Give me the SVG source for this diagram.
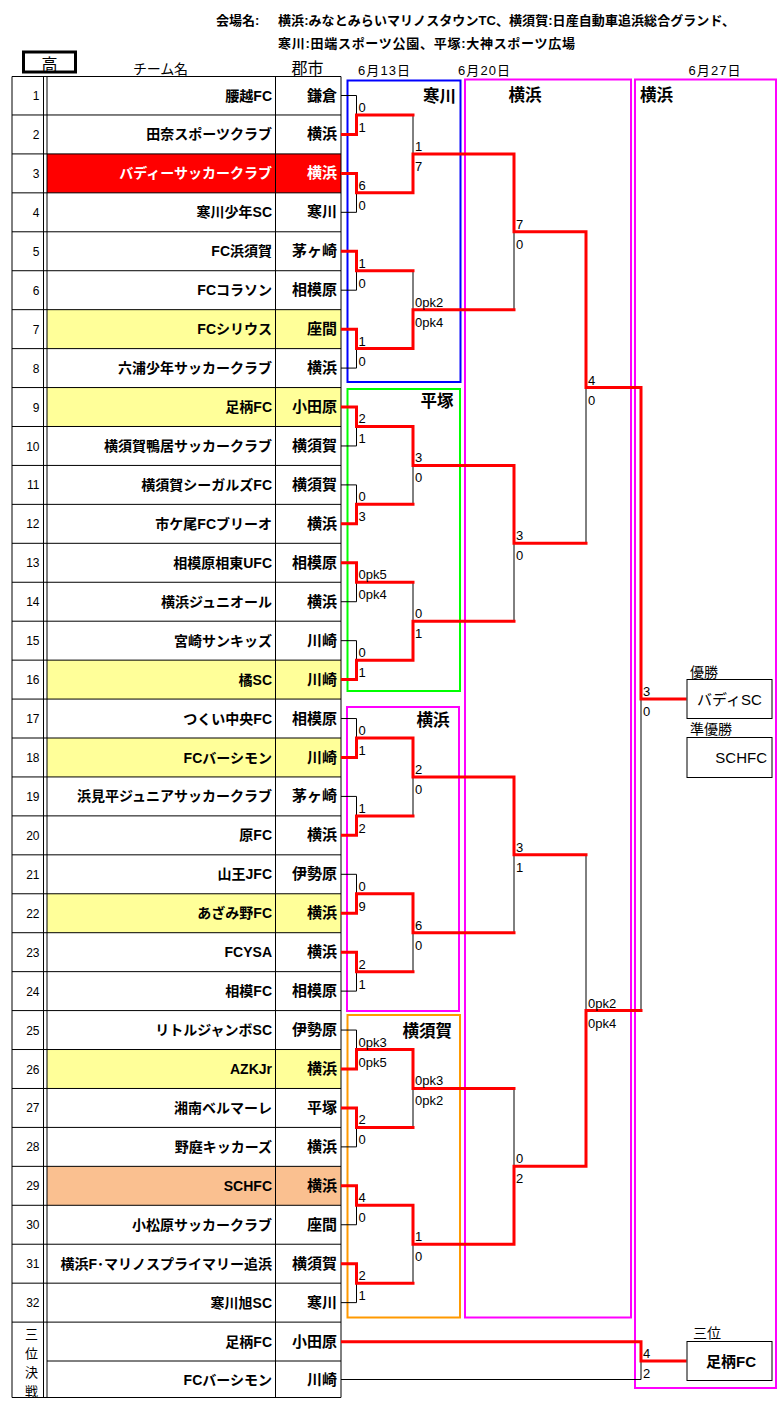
<svg xmlns="http://www.w3.org/2000/svg" width="780" height="1407" viewBox="0 0 780 1407">
<style>
text{font-family:"Liberation Sans","Noto Sans CJK JP",sans-serif;fill:#000}
.hd{font-size:13px;font-weight:bold}
.ch{font-size:14px}
.num{font-size:12px;text-anchor:end}
.nm{font-size:14px;font-weight:bold;text-anchor:end}
.ct{font-size:15px;font-weight:bold;text-anchor:end}
.wt{fill:#fff}
.sc{font-size:13px}
.lbl{font-size:16.5px;font-weight:bold}
.res{font-size:15px}
.cap{font-size:14px}
.red{fill:none;stroke:#f00;stroke-width:3;stroke-linecap:square;stroke-linejoin:miter}
.blk{fill:none;stroke:#000;stroke-width:1}
.grid{fill:none;stroke:#000;stroke-width:1}
.stage{fill:none;stroke-width:2}
.box{fill:#fff;stroke:#000;stroke-width:1}
.yel{fill:#FFFF99}
</style>
<rect width="780" height="1407" fill="#fff"/>
<g id="header">
<text class="hd" x="216" y="25">会場名:</text>
<text class="hd" x="278" y="25" textLength="457">横浜:みなとみらいマリノスタウンTC、横須賀:日産自動車追浜総合グランド、</text>
<text class="hd" x="278" y="48" textLength="297">寒川:田端スポーツ公園、平塚:大神スポーツ広場</text>
<rect x="23.5" y="52" width="52" height="20" fill="none" stroke="#000" stroke-width="3"/>
<text x="49.5" y="70" style="font-size:16px;text-anchor:middle">高</text>
<text class="ch" x="133" y="74" textLength="55">チーム名</text>
<text x="291.5" y="74" style="font-size:16px" textLength="32">郡市</text>
<text x="358" y="74.5" style="font-size:13px" textLength="52">6月13日</text>
<text x="458" y="74.5" style="font-size:13px" textLength="52">6月20日</text>
<text x="688.5" y="74.5" style="font-size:13px" textLength="52">6月27日</text>
</g>
<g id="stages">
<g id="stage-samukawa"><rect class="stage" x="347.5" y="80.5" width="113" height="301.5" stroke="#0000FF"/><text class="lbl" x="456" y="101.5" text-anchor="end">寒川</text></g>
<g id="stage-hiratsuka"><rect class="stage" x="347.5" y="389" width="112.5" height="302" stroke="#00FF00"/><text class="lbl" x="453.5" y="406.5" text-anchor="end">平塚</text></g>
<g id="stage-yokohama1"><rect class="stage" x="347" y="707" width="112" height="304" stroke="#FF00FF"/><text class="lbl" x="449.5" y="725.5" text-anchor="end">横浜</text></g>
<g id="stage-yokosuka"><rect class="stage" x="347.5" y="1015" width="112.5" height="302.5" stroke="#FF9900"/><text class="lbl" x="452" y="1037" text-anchor="end">横須賀</text></g>
<g id="stage-yokohama2"><rect class="stage" x="465" y="79.5" width="166" height="1238" stroke="#FF00FF"/><text class="lbl" x="508.5" y="100.5">横浜</text></g>
<g id="stage-yokohama3"><rect class="stage" x="635" y="79.5" width="141" height="1308.5" stroke="#FF00FF"/><text class="lbl" x="640" y="100.5">横浜</text></g>
</g>
<g id="table">
<rect x="47" y="153.91" width="294" height="38.94" fill="#FF0000"/>
<rect class="yel" x="47" y="309.67" width="294" height="38.94"/>
<rect class="yel" x="47" y="387.55" width="294" height="38.94"/>
<rect class="yel" x="47" y="660.13" width="294" height="38.94"/>
<rect class="yel" x="47" y="738.01" width="294" height="38.94"/>
<rect class="yel" x="47" y="893.77" width="294" height="38.94"/>
<rect class="yel" x="47" y="1049.53" width="294" height="38.94"/>
<rect x="47" y="1166.35" width="294" height="38.94" fill="#FAC090"/>
<path class="grid" d="M12 76.5H341V1397.5H12Z M43.5 76.5V1397.5 M47 76.5V1397.5 M275.5 76.5V1397.5
M12 114.97H341 M12 153.91H341 M12 192.85H341 M12 231.79H341 M12 270.73H341 M12 309.67H341 M12 348.61H341 M12 387.55H341
M12 426.49H341 M12 465.43H341 M12 504.37H341 M12 543.31H341 M12 582.25H341 M12 621.19H341 M12 660.13H341 M12 699.07H341
M12 738.01H341 M12 776.95H341 M12 815.89H341 M12 854.83H341 M12 893.77H341 M12 932.71H341 M12 971.65H341 M12 1010.59H341
M12 1049.53H341 M12 1088.47H341 M12 1127.41H341 M12 1166.35H341 M12 1205.29H341 M12 1244.23H341 M12 1283.17H341 M12 1322.11H341
M47 1361H341"/>
<g id="team-1"><text class="num" x="39.5" y="100">1</text><text class="nm" x="272" y="100.5">腰越FC</text><text class="ct" x="337" y="100.5">鎌倉</text></g>
<g id="team-2"><text class="num" x="39.5" y="138.9">2</text><text class="nm" x="272" y="139.4">田奈スポーツクラブ</text><text class="ct" x="337" y="139.4">横浜</text></g>
<g id="team-3"><text class="num" x="39.5" y="177.9">3</text><text class="nm wt" x="272" y="178.4">バディーサッカークラブ</text><text class="ct wt" x="337" y="178.4">横浜</text></g>
<g id="team-4"><text class="num" x="39.5" y="216.8">4</text><text class="nm" x="272" y="217.3">寒川少年SC</text><text class="ct" x="337" y="217.3">寒川</text></g>
<g id="team-5"><text class="num" x="39.5" y="255.8">5</text><text class="nm" x="272" y="256.3">FC浜須賀</text><text class="ct" x="337" y="256.3">茅ヶ崎</text></g>
<g id="team-6"><text class="num" x="39.5" y="294.7">6</text><text class="nm" x="272" y="295.2">FCコラソン</text><text class="ct" x="337" y="295.2">相模原</text></g>
<g id="team-7"><text class="num" x="39.5" y="333.6">7</text><text class="nm" x="272" y="334.1">FCシリウス</text><text class="ct" x="337" y="334.1">座間</text></g>
<g id="team-8"><text class="num" x="39.5" y="372.6">8</text><text class="nm" x="272" y="373.1">六浦少年サッカークラブ</text><text class="ct" x="337" y="373.1">横浜</text></g>
<g id="team-9"><text class="num" x="39.5" y="411.5">9</text><text class="nm" x="272" y="412">足柄FC</text><text class="ct" x="337" y="412">小田原</text></g>
<g id="team-10"><text class="num" x="39.5" y="450.5">10</text><text class="nm" x="272" y="451">横須賀鴨居サッカークラブ</text><text class="ct" x="337" y="451">横須賀</text></g>
<g id="team-11"><text class="num" x="39.5" y="489.4">11</text><text class="nm" x="272" y="489.9">横須賀シーガルズFC</text><text class="ct" x="337" y="489.9">横須賀</text></g>
<g id="team-12"><text class="num" x="39.5" y="528.3">12</text><text class="nm" x="272" y="528.8">市ケ尾FCブリーオ</text><text class="ct" x="337" y="528.8">横浜</text></g>
<g id="team-13"><text class="num" x="39.5" y="567.3">13</text><text class="nm" x="272" y="567.8">相模原相東UFC</text><text class="ct" x="337" y="567.8">相模原</text></g>
<g id="team-14"><text class="num" x="39.5" y="606.2">14</text><text class="nm" x="272" y="606.7">横浜ジュニオール</text><text class="ct" x="337" y="606.7">横浜</text></g>
<g id="team-15"><text class="num" x="39.5" y="645.2">15</text><text class="nm" x="272" y="645.7">宮崎サンキッズ</text><text class="ct" x="337" y="645.7">川崎</text></g>
<g id="team-16"><text class="num" x="39.5" y="684.1">16</text><text class="nm" x="272" y="684.6">橘SC</text><text class="ct" x="337" y="684.6">川崎</text></g>
<g id="team-17"><text class="num" x="39.5" y="723">17</text><text class="nm" x="272" y="723.5">つくい中央FC</text><text class="ct" x="337" y="723.5">相模原</text></g>
<g id="team-18"><text class="num" x="39.5" y="762">18</text><text class="nm" x="272" y="762.5">FCバーシモン</text><text class="ct" x="337" y="762.5">川崎</text></g>
<g id="team-19"><text class="num" x="39.5" y="800.9">19</text><text class="nm" x="272" y="801.4">浜見平ジュニアサッカークラブ</text><text class="ct" x="337" y="801.4">茅ヶ崎</text></g>
<g id="team-20"><text class="num" x="39.5" y="839.9">20</text><text class="nm" x="272" y="840.4">原FC</text><text class="ct" x="337" y="840.4">横浜</text></g>
<g id="team-21"><text class="num" x="39.5" y="878.8">21</text><text class="nm" x="272" y="879.3">山王JFC</text><text class="ct" x="337" y="879.3">伊勢原</text></g>
<g id="team-22"><text class="num" x="39.5" y="917.7">22</text><text class="nm" x="272" y="918.2">あざみ野FC</text><text class="ct" x="337" y="918.2">横浜</text></g>
<g id="team-23"><text class="num" x="39.5" y="956.7">23</text><text class="nm" x="272" y="957.2">FCYSA</text><text class="ct" x="337" y="957.2">横浜</text></g>
<g id="team-24"><text class="num" x="39.5" y="995.6">24</text><text class="nm" x="272" y="996.1">相模FC</text><text class="ct" x="337" y="996.1">相模原</text></g>
<g id="team-25"><text class="num" x="39.5" y="1034.6">25</text><text class="nm" x="272" y="1035.1">リトルジャンボSC</text><text class="ct" x="337" y="1035.1">伊勢原</text></g>
<g id="team-26"><text class="num" x="39.5" y="1073.5">26</text><text class="nm" x="272" y="1074">AZKJr</text><text class="ct" x="337" y="1074">横浜</text></g>
<g id="team-27"><text class="num" x="39.5" y="1112.4">27</text><text class="nm" x="272" y="1112.9">湘南ベルマーレ</text><text class="ct" x="337" y="1112.9">平塚</text></g>
<g id="team-28"><text class="num" x="39.5" y="1151.4">28</text><text class="nm" x="272" y="1151.9">野庭キッカーズ</text><text class="ct" x="337" y="1151.9">横浜</text></g>
<g id="team-29"><text class="num" x="39.5" y="1190.3">29</text><text class="nm" x="272" y="1190.8">SCHFC</text><text class="ct" x="337" y="1190.8">横浜</text></g>
<g id="team-30"><text class="num" x="39.5" y="1229.3">30</text><text class="nm" x="272" y="1229.8">小松原サッカークラブ</text><text class="ct" x="337" y="1229.8">座間</text></g>
<g id="team-31"><text class="num" x="39.5" y="1268.2">31</text><text class="nm" x="272" y="1268.7">横浜F･マリノスプライマリー追浜</text><text class="ct" x="337" y="1268.7">横須賀</text></g>
<g id="team-32"><text class="num" x="39.5" y="1307.1">32</text><text class="nm" x="272" y="1307.6">寒川旭SC</text><text class="ct" x="337" y="1307.6">寒川</text></g>
<g id="third-label"><text x="31.5" y="1338.5" style="font-size:13px;text-anchor:middle">三</text><text x="31.5" y="1358" style="font-size:13px;text-anchor:middle">位</text><text x="31.5" y="1377" style="font-size:13px;text-anchor:middle">決</text><text x="31.5" y="1396" style="font-size:13px;text-anchor:middle">戦</text></g>
<g id="team-33"><text class="nm" x="272" y="1346.7">足柄FC</text><text class="ct" x="337" y="1346.7">小田原</text></g>
<g id="team-34"><text class="nm" x="272" y="1384.5">FCバーシモン</text><text class="ct" x="337" y="1384.5">川崎</text></g>
</g>
<g id="connectors">
<path class="blk" d="M341 95.5H356.5V114.97 M341 212.32H356.5V192.85 M341 290.2H356.5V270.73 M341 368.08H356.5V348.61
M341 445.96H356.5V426.49 M341 484.9H356.5V504.37 M341 601.72H356.5V582.25 M341 640.66H356.5V660.13
M341 718.54H356.5V738.01 M341 796.42H356.5V815.89 M341 874.3H356.5V893.77 M341 991.12H356.5V971.65
M341 1030.06H356.5V1049.53 M341 1146.88H356.5V1127.41 M341 1224.76H356.5V1205.29 M341 1302.64H356.5V1283.17
M413 114.97V153.91 M413 270.73V309.67 M413 504.37V465.43 M413 582.25V621.19 M413 815.89V776.95 M413 971.65V932.71 M413 1127.41V1088.47 M413 1283.17V1244.23
M514 309.67V231.79 M514 621.19V543.31 M514 932.71V854.83 M514 1088.47V1166.35
M586 543.31V387.55 M586 854.83V1010.59
M641 1010.59V699.07
M341 1379.5H641V1361"/>
<path class="red" d="M342.5 134.44H356.5V114.97H413 M342.5 173.38H356.5V192.85H413 M342.5 251.26H356.5V270.73H413 M342.5 329.14H356.5V348.61H413
M342.5 407.02H356.5V426.49H413 M342.5 523.84H356.5V504.37H413 M342.5 562.78H356.5V582.25H413 M342.5 679.6H356.5V660.13H413
M342.5 757.48H356.5V738.01H413 M342.5 835.36H356.5V815.89H413 M342.5 913.24H356.5V893.77H413 M342.5 952.18H356.5V971.65H413
M342.5 1069H356.5V1049.53H413 M342.5 1107.94H356.5V1127.41H413 M342.5 1185.82H356.5V1205.29H413 M342.5 1263.7H356.5V1283.17H413
M413 192.85V153.91H514 M413 348.61V309.67H514 M413 426.49V465.43H514 M413 660.13V621.19H514
M413 738.01V776.95H514 M413 893.77V932.71H514 M413 1049.53V1088.47H514 M413 1205.29V1244.23H514
M514 153.91V231.79H586 M514 465.43V543.31H586 M514 776.95V854.83H586 M514 1244.23V1166.35H586
M586 231.79V387.55H641 M586 1166.35V1010.59H641
M641 387.55V699.07H685
M342.5 1341.7H641V1361H685"/>
</g>
<g id="scores" class="sc">
<text class="sc" x="358.5" y="111.97">0</text><text class="sc" x="358.5" y="131.97">1</text>
<text class="sc" x="358.5" y="189.85">6</text><text class="sc" x="358.5" y="209.85">0</text>
<text class="sc" x="358.5" y="267.73">1</text><text class="sc" x="358.5" y="287.73">0</text>
<text class="sc" x="358.5" y="345.61">1</text><text class="sc" x="358.5" y="365.61">0</text>
<text class="sc" x="358.5" y="423.49">2</text><text class="sc" x="358.5" y="443.49">1</text>
<text class="sc" x="358.5" y="501.37">0</text><text class="sc" x="358.5" y="521.37">3</text>
<text class="sc" x="358.5" y="579.25">0pk5</text><text class="sc" x="358.5" y="599.25">0pk4</text>
<text class="sc" x="358.5" y="657.13">0</text><text class="sc" x="358.5" y="677.13">1</text>
<text class="sc" x="358.5" y="735.01">0</text><text class="sc" x="358.5" y="755.01">1</text>
<text class="sc" x="358.5" y="812.89">1</text><text class="sc" x="358.5" y="832.89">2</text>
<text class="sc" x="358.5" y="890.77">0</text><text class="sc" x="358.5" y="910.77">9</text>
<text class="sc" x="358.5" y="968.65">2</text><text class="sc" x="358.5" y="988.65">1</text>
<text class="sc" x="358.5" y="1046.53">0pk3</text><text class="sc" x="358.5" y="1066.53">0pk5</text>
<text class="sc" x="358.5" y="1124.41">2</text><text class="sc" x="358.5" y="1144.41">0</text>
<text class="sc" x="358.5" y="1202.29">4</text><text class="sc" x="358.5" y="1222.29">0</text>
<text class="sc" x="358.5" y="1280.17">2</text><text class="sc" x="358.5" y="1300.17">1</text>
<text class="sc" x="415" y="150.91">1</text><text class="sc" x="415" y="170.91">7</text>
<text class="sc" x="415" y="306.67">0pk2</text><text class="sc" x="415" y="326.67">0pk4</text>
<text class="sc" x="415" y="462.43">3</text><text class="sc" x="415" y="482.43">0</text>
<text class="sc" x="415" y="618.19">0</text><text class="sc" x="415" y="638.19">1</text>
<text class="sc" x="415" y="773.95">2</text><text class="sc" x="415" y="793.95">0</text>
<text class="sc" x="415" y="929.71">6</text><text class="sc" x="415" y="949.71">0</text>
<text class="sc" x="415" y="1085.47">0pk3</text><text class="sc" x="415" y="1105.47">0pk2</text>
<text class="sc" x="415" y="1241.23">1</text><text class="sc" x="415" y="1261.23">0</text>
<text class="sc" x="516" y="228.79">7</text><text class="sc" x="516" y="248.79">0</text>
<text class="sc" x="516" y="540.31">3</text><text class="sc" x="516" y="560.31">0</text>
<text class="sc" x="516" y="851.83">3</text><text class="sc" x="516" y="871.83">1</text>
<text class="sc" x="516" y="1163.35">0</text><text class="sc" x="516" y="1183.35">2</text>
<text class="sc" x="588" y="384.55">4</text><text class="sc" x="588" y="404.55">0</text>
<text class="sc" x="588" y="1007.59">0pk2</text><text class="sc" x="588" y="1027.59">0pk4</text>
<text class="sc" x="643" y="696.07">3</text><text class="sc" x="643" y="716.07">0</text>
<text class="sc" x="643" y="1358">4</text><text class="sc" x="643" y="1378">2</text>
</g>
<g id="results">
<g id="champion"><text class="cap" x="690" y="676.5">優勝</text><rect class="box" x="687" y="679.5" width="85" height="39"/><text class="res" x="729.5" y="705" text-anchor="middle">バディSC</text></g>
<g id="runner-up"><text class="cap" x="690" y="733.5">準優勝</text><rect class="box" x="687" y="737.5" width="85" height="40"/><text class="res" x="767" y="763" text-anchor="end">SCHFC</text></g>
<g id="third-place"><text class="cap" x="693" y="1338">三位</text><rect class="box" x="687" y="1341.5" width="85" height="39"/><text class="res" x="731" y="1367" text-anchor="middle" font-weight="bold">足柄FC</text></g>
</g>
</svg>
